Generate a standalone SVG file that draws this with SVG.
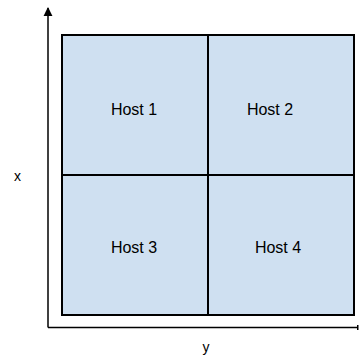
<svg xmlns="http://www.w3.org/2000/svg" width="359" height="356" viewBox="0 0 359 356">
<defs>
<style>
.cell{fill:#cfe0f1;stroke:#000;stroke-width:2}
.lbl{font-family:"Liberation Sans",Arial,sans-serif;font-size:16px;fill:#000;text-anchor:middle}
.ax{font-family:"Liberation Sans",Arial,sans-serif;font-size:14px;fill:#000;text-anchor:middle}
.axis{stroke:#000;stroke-width:1.5;fill:none}
</style>
<marker id="arr" viewBox="0 0 10 10" refX="9" refY="5" markerWidth="9" markerHeight="12" markerUnits="userSpaceOnUse" orient="auto">
<path d="M0,0 L10,5 L0,10 z" fill="#000"/>
</marker>
<marker id="bar" viewBox="0 0 4 10" refX="2" refY="5" markerWidth="2" markerHeight="10" markerUnits="userSpaceOnUse" orient="auto">
<rect x="0" y="0" width="4" height="10" fill="#000"/>
</marker>
</defs>
<rect width="359" height="356" fill="#fff"/>
<g id="connectors">
<path class="axis" d="M48,327.5 L48,8" marker-end="url(#arr)"/>
<path class="axis" d="M48,327.5 L357.5,327.5" marker-end="url(#bar)"/>
</g>
<g id="host1"><rect class="cell" x="62" y="35" width="146" height="140"/><text class="lbl" x="134" y="115">Host 1</text></g>
<g id="host2"><rect class="cell" x="208" y="35" width="146" height="140"/><text class="lbl" x="270" y="115">Host 2</text></g>
<g id="host3"><rect class="cell" x="62" y="175" width="146" height="140"/><text class="lbl" x="134" y="253">Host 3</text></g>
<g id="host4"><rect class="cell" x="208" y="175" width="146" height="140"/><text class="lbl" x="278" y="253">Host 4</text></g>
<text class="ax" x="17.5" y="181">x</text>
<text class="ax" x="206" y="352">y</text>
</svg>
